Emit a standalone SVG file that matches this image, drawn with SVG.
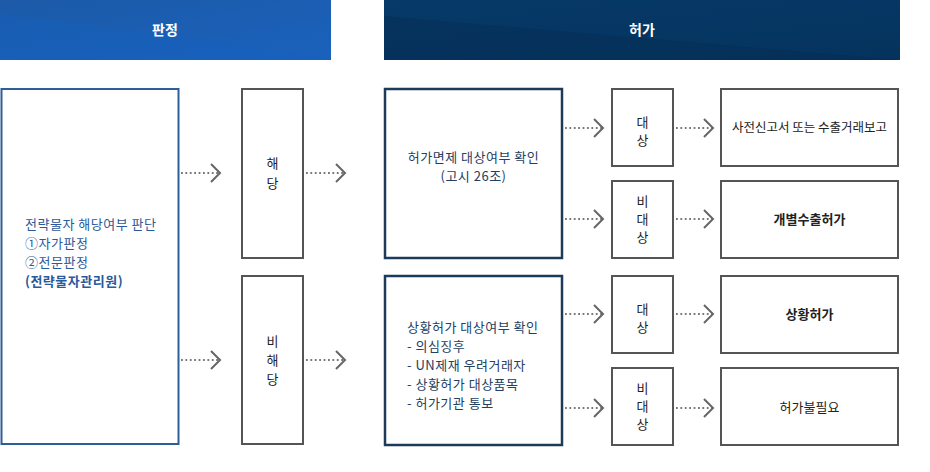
<svg xmlns="http://www.w3.org/2000/svg" width="930" height="472" viewBox="0 0 930 472">
<defs>
<linearGradient id="gL" x1="0" y1="0" x2="1" y2="1">
<stop offset="0" stop-color="#1c5aa8"/><stop offset="1" stop-color="#1a62bd"/>
</linearGradient>
<linearGradient id="gR" x1="0" y1="0" x2="1" y2="1">
<stop offset="0" stop-color="#073a68"/><stop offset="1" stop-color="#05335e"/>
</linearGradient>
<marker id="chev" markerUnits="userSpaceOnUse" markerWidth="14" markerHeight="22" refX="11" refY="10" orient="auto">
<polyline points="2,1 11,10 2,19" fill="none" stroke="#666" stroke-width="2"/>
</marker>
</defs>
<style>
text{font-family:"Noto Sans CJK KR","Noto Sans",sans-serif;}
.hd{fill:#fff;font-size:14px;font-weight:bold;text-anchor:middle;}
.bl{fill:#fff;stroke:#2c5e99;stroke-width:2;}
.nv{fill:#fff;stroke:#1c3a5a;stroke-width:2.5;}
.gy{fill:#fff;stroke:#555;stroke-width:2;}
.tb{fill:#2a5a9a;font-size:13px;letter-spacing:0.5px;}
.tn{fill:#24405f;font-size:13px;letter-spacing:0.5px;}
.tk{fill:#222;font-size:13px;text-anchor:middle;}
.bd{font-weight:bold;}
.cn line{stroke:#777;stroke-width:1.8;stroke-dasharray:1.8 2.6;marker-end:url(#chev);}
</style>
<g id="header-judge">
<rect x="0" y="0" width="331" height="60" fill="url(#gL)"/>
<polygon points="0,14 331,58 331,60 0,60" fill="#1560c0" opacity="0.35"/>
<text class="hd" x="165" y="35">판정</text>
</g>
<g id="header-permit">
<rect x="384" y="0" width="516" height="60" fill="url(#gR)"/>
<polygon points="384,16 900,60 384,60" fill="#02284c" opacity="0.3"/>
<text class="hd" x="642" y="35">허가</text>
</g>
<g id="node-judge">
<rect class="bl" x="1.5" y="89" width="177" height="355"/>
<text class="tb" x="25" y="229">전략물자 해당여부 판단</text>
<text class="tb" x="25" y="248">①자가판정</text>
<text class="tb" x="25" y="267">②전문판정</text>
<text class="tb bd" x="25" y="286">(전략물자관리원)</text>
</g>
<g id="node-applicable">
<rect class="gy" x="242" y="89" width="61" height="169"/>
<text class="tk" x="272.5" y="168">해</text>
<text class="tk" x="272.5" y="188">당</text>
</g>
<g id="node-not-applicable">
<rect class="gy" x="242" y="276" width="61" height="168"/>
<text class="tk" x="272.5" y="346">비</text>
<text class="tk" x="272.5" y="365">해</text>
<text class="tk" x="272.5" y="384">당</text>
</g>
<g id="node-exemption">
<rect class="nv" x="385" y="89" width="177" height="169"/>
<text class="tn" x="473.5" y="162" text-anchor="middle">허가면제 대상여부 확인</text>
<text class="tn" x="473.5" y="181" text-anchor="middle">(고시 26조)</text>
</g>
<g id="node-catchall">
<rect class="nv" x="385" y="276" width="177" height="169"/>
<text class="tn" x="407" y="332">상황허가 대상여부 확인</text>
<text class="tn" x="407" y="351">- 의심징후</text>
<text class="tn" x="407" y="370">- UN제재 우려거래자</text>
<text class="tn" x="407" y="389">- 상황허가 대상품목</text>
<text class="tn" x="407" y="408">- 허가기관 통보</text>
</g>
<g id="node-target-1">
<rect class="gy" x="612" y="89" width="61" height="77"/>
<text class="tk" x="642.5" y="127">대</text>
<text class="tk" x="642.5" y="145">상</text>
</g>
<g id="node-nontarget-1">
<rect class="gy" x="612" y="181" width="61" height="77"/>
<text class="tk" x="642.5" y="206">비</text>
<text class="tk" x="642.5" y="224">대</text>
<text class="tk" x="642.5" y="242">상</text>
</g>
<g id="node-target-2">
<rect class="gy" x="612" y="276" width="61" height="77"/>
<text class="tk" x="642.5" y="314">대</text>
<text class="tk" x="642.5" y="332">상</text>
</g>
<g id="node-nontarget-2">
<rect class="gy" x="612" y="368" width="61" height="77"/>
<text class="tk" x="642.5" y="393">비</text>
<text class="tk" x="642.5" y="411">대</text>
<text class="tk" x="642.5" y="429">상</text>
</g>
<g id="node-prereport">
<rect class="gy" x="721" y="89" width="177" height="77"/>
<text class="tk" x="809.5" y="132" style="font-size:12.5px">사전신고서 또는 수출거래보고</text>
</g>
<g id="node-individual">
<rect class="gy" x="721" y="181" width="177" height="77"/>
<text class="tk bd" x="809.5" y="224">개별수출허가</text>
</g>
<g id="node-catchall-permit">
<rect class="gy" x="721" y="276" width="177" height="77"/>
<text class="tk bd" x="809.5" y="319">상황허가</text>
</g>
<g id="node-no-permit">
<rect class="gy" x="721" y="368" width="177" height="77"/>
<text class="tk" x="809.5" y="412">허가불필요</text>
</g>
<g id="connectors" class="cn">
<line x1="181" y1="173" x2="220" y2="173"/>
<line x1="181" y1="360" x2="220" y2="360"/>
<line x1="306" y1="173" x2="345" y2="173"/>
<line x1="306" y1="360" x2="345" y2="360"/>
<line x1="565" y1="128" x2="603" y2="128"/>
<line x1="565" y1="219" x2="603" y2="219"/>
<line x1="565" y1="314" x2="603" y2="314"/>
<line x1="565" y1="408" x2="603" y2="408"/>
<line x1="676" y1="128" x2="713" y2="128"/>
<line x1="676" y1="219" x2="713" y2="219"/>
<line x1="676" y1="314" x2="713" y2="314"/>
<line x1="676" y1="408" x2="713" y2="408"/>
</g>
</svg>
